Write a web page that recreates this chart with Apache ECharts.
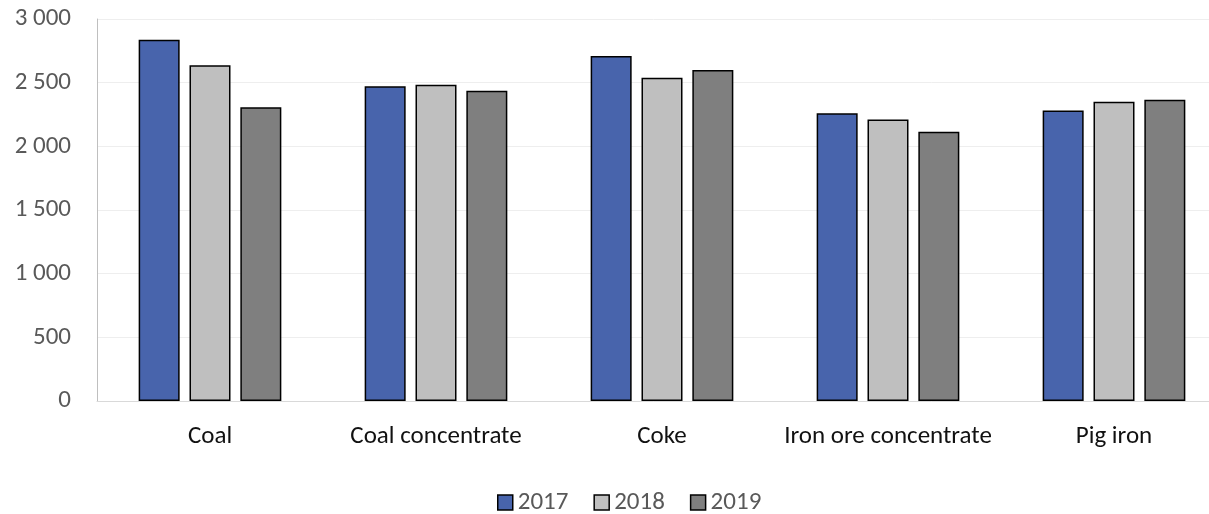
<!DOCTYPE html>
<html>
<head>
<meta charset="utf-8">
<script src="https://cdn.jsdelivr.net/npm/echarts@6/dist/echarts.min.js"></script>
<style>
  html, body { margin: 0; padding: 0; background: #fff; }
  #chart { width: 1209px; height: 514px; }
</style>
</head>
<body>
<div id="chart"></div>
<script>
// Production by product, 2017–2019
const categories = ['Coal', 'Coal concentrate', 'Coke', 'Iron ore concentrate', 'Pig iron'];
const years = ['2017', '2018', '2019'];
const values2017 = [2838, 2471, 2710, 2259, 2282];
const values2018 = [2636, 2484, 2539, 2211, 2351];
const values2019 = [2306, 2437, 2600, 2115, 2366];
const yTicks = { min: 0, max: 3000, interval: 500 };

const FONT = 'Carlito, Lato, sans-serif';
const colors = ['#4864AC', '#BFBFBF', '#7F7F7F'];
const seriesValues = [values2017, values2018, values2019];

// "3 000" style thousands grouping
function groupThousands(v) {
  return String(v).replace(/\B(?=(\d{3})+(?!\d))/g, ' ');
}

const chart = echarts.init(document.getElementById('chart'), null, { renderer: 'canvas' });

chart.setOption({
  animation: false,
  color: colors,
  // plot area runs a little past the right edge of the canvas
  grid: { left: 97, top: 19, height: 382, width: 1130, outerBoundsMode: 'none', containLabel: false },
  legend: {
    data: years,
    top: 485,
    left: 492,
    icon: 'rect',
    itemWidth: 15,
    itemHeight: 15,
    itemGap: 25,
    itemStyle: { borderColor: '#000', borderWidth: 1.5 },
    textStyle: { fontFamily: FONT, fontSize: 25, color: '#595959' }
  },
  xAxis: {
    type: 'category',
    data: categories,
    axisTick: { show: false },
    axisLine: { lineStyle: { color: '#D9D9D9', width: 1 } },
    axisLabel: { interval: 0, fontFamily: FONT, fontSize: 25, color: '#111', margin: 23 }
  },
  yAxis: {
    type: 'value',
    min: yTicks.min,
    max: yTicks.max,
    interval: yTicks.interval,
    axisLine: { show: true, lineStyle: { color: '#BFBFBF', width: 1 } },
    axisTick: { show: false },
    splitLine: { lineStyle: { color: '#EEEEEE', width: 1 } },
    axisLabel: {
      fontFamily: FONT, fontSize: 25, color: '#595959', margin: 26,
      formatter: groupThousands
    }
  },
  series: years.map((y, i) => ({
    name: y,
    type: 'bar',
    data: seriesValues[i],
    barWidth: 41,
    barGap: '24%',
    itemStyle: { color: colors[i], borderColor: '#000', borderWidth: 1.5 }
  }))
});
</script>
</body>
</html>
